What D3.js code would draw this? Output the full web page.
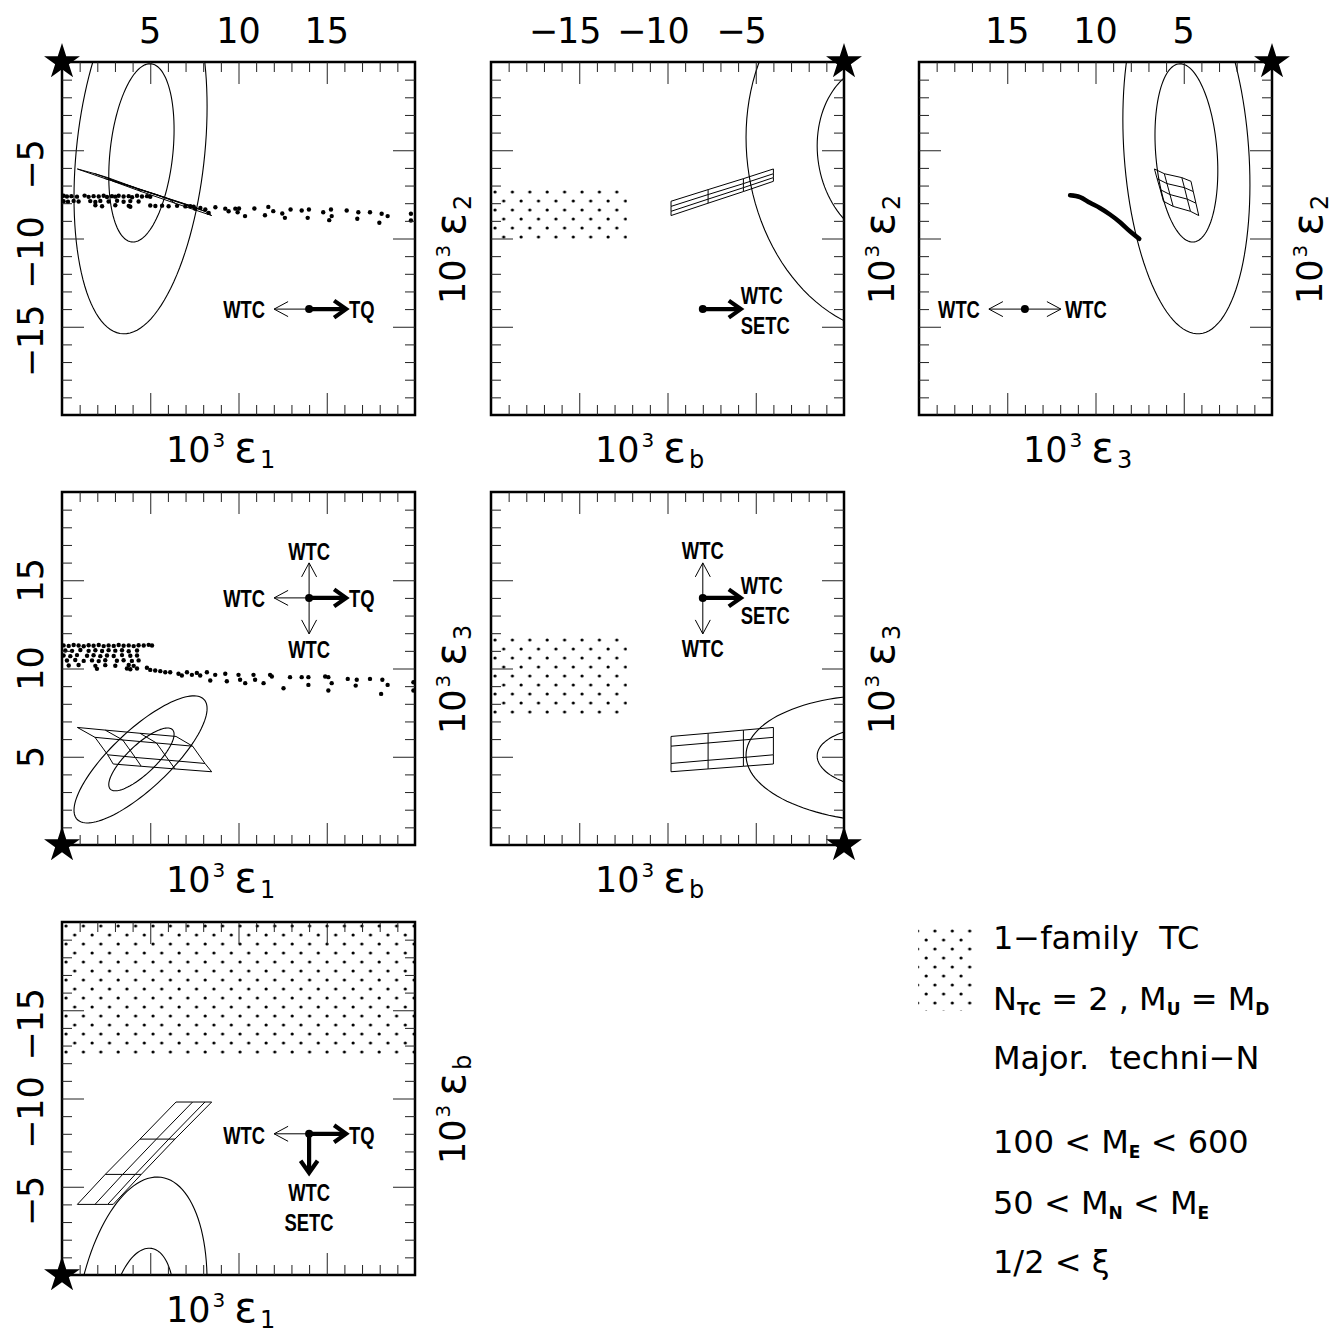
<!DOCTYPE html>
<html>
<head>
<meta charset="utf-8">
<script src="https://cdn.jsdelivr.net/npm/d3@7"></script>
<style>
  body { margin: 0; background: #fff; }
  svg text { font-family: "DejaVu Sans", sans-serif; fill: #000; white-space: pre; }
  svg text.note { font-family: "Liberation Sans", Arial, sans-serif; font-size: 23px; font-weight: bold; }
</style>
</head>
<body>
<div id="chart"></div>
<script>
// ---- values ----
const majorTicks = [5, 10, 15];
const minorTicks = [1, 2, 3, 4, 6, 7, 8, 9, 11, 12, 13, 14, 16, 17, 18, 19];

// model grid: rows i = eps_b level, columns j = second parameter
const gridEb = [-9.8, -7.7, -5.7, -4.0];
const gridE1 = [[6.46, 7.40, 8.10, 8.48], [4.42, 5.35, 6.05, 6.40], [2.45, 3.44, 4.15, 4.49], [0.87, 1.87, 2.59, 2.90]];
const gridE2 = [[-7.89, -8.18, -8.46, -8.70], [-7.23, -7.51, -7.77, -8.00], [-6.61, -6.89, -7.12, -7.34], [-6.06, -6.33, -6.55, -6.76]];
const gridE3 = [[6.15, 5.60, 4.62, 4.15], [6.33, 5.78, 4.80, 4.31], [6.51, 5.95, 4.96, 4.46], [6.66, 6.10, 5.11, 4.59]];

// fit contours: centre, half extents, correlation
const contoursP1 = [{cx: 4.5, cy: -5.15, hx: 1.85, hy: 5.05, rho: 0.26}, {cx: 4.45, cy: -5.1, hx: 3.77, hy: 10.3, rho: 0.25}];
const contoursP2 = [{cx: 2.35, cy: -5.15, hx: 3.87, hy: 5.05, rho: -0.08}, {cx: 2.35, cy: -5.1, hx: 7.9, hy: 10.3, rho: -0.08}];
const contoursP3 = [{cx: 4.85, cy: -5.15, hx: 1.78, hy: 5.05, rho: 0.2}, {cx: 4.85, cy: -5.1, hx: 3.6, hy: 10.3, rho: 0.18}];
const contoursP4 = [{cx: 4.5, cy: 4.85, hx: 1.85, hy: 1.78, rho: 0.8}, {cx: 4.45, cy: 4.85, hx: 3.77, hy: 3.6, rho: 0.8}];
const contoursP5 = [{cx: 2.35, cy: 4.9, hx: 3.87, hy: 1.78, rho: -0.08}, {cx: 2.35, cy: 4.9, hx: 7.9, hy: 3.6, rho: -0.05}];
const contoursP6 = [{cx: 4.5, cy: 2.35, hx: 1.85, hy: 3.87, rho: -0.24}, {cx: 4.45, cy: 2.35, hx: 3.77, hy: 7.9, rho: -0.25}];

// 1-family TC scan points (eps1, eps2)
const dotsP1 = [
  [0.09,-7.58],[0.28,-7.62],[0.53,-7.6],[0.85,-7.63],[1.28,-7.57],[1.51,-7.64],[1.79,-7.6],[2.08,-7.62],[2.36,-7.58],[2.55,-7.65],
  [2.83,-7.6],[3.02,-7.63],[3.21,-7.58],[3.49,-7.62],[3.78,-7.6],[3.97,-7.66],[4.25,-7.58],[4.53,-7.62],[4.82,-7.6],[5.0,-7.64],
  [0.09,-7.89],[0.34,-7.92],[0.66,-7.87],[0.94,-7.9],[1.6,-7.88],[1.89,-7.93],[2.17,-7.87],[2.64,-7.9],[3.12,-7.86],[3.49,-7.92],
  [3.87,-7.88],[4.34,-7.9],[1.89,-8.12],[2.27,-8.17],[3.02,-8.12],[3.78,-8.15],[3.87,-8.2],[5.0,-8.13],[5.29,-8.16],[5.67,-8.14],
  [6.04,-8.17],[6.52,-8.15],[6.99,-8.18],[7.27,-8.17],[7.46,-8.2],[7.55,-8.31],[7.84,-8.27],[8.12,-8.36],[8.31,-8.55],[8.69,-8.23],
  [9.25,-8.31],[9.44,-8.46],[9.82,-8.31],[10.03,-8.3],[9.95,-8.51],[10.37,-8.73],[10.9,-8.3],[11.5,-8.68],[11.69,-8.21],[11.97,-8.45],
  [12.48,-8.58],[12.63,-8.83],[12.95,-8.36],[13.58,-8.41],[13.99,-8.36],[13.92,-8.83],[14.8,-8.51],[15.24,-8.36],[15.28,-8.73],[15.14,-8.96],
  [16.13,-8.41],[16.79,-8.51],[16.73,-8.88],[17.45,-8.51],[18.11,-8.6],[17.98,-9.11],[18.45,-8.73],[19.77,-8.6],[19.77,-8.98]
];
// same scan, (eps1, eps3)
const dotsP4 = [
  [0.09,11.31],[0.38,11.28],[0.66,11.33],[0.94,11.3],[1.23,11.26],[1.51,11.32],[1.79,11.29],[2.08,11.33],[2.36,11.27],[2.64,11.31],
  [2.93,11.28],[3.21,11.33],[3.49,11.29],[3.78,11.31],[4.06,11.27],[4.34,11.32],[4.63,11.3],[4.91,11.34],[5.1,11.3],
  [0.19,11.02],[0.57,11.0],[1.04,11.05],[1.51,11.0],[1.89,11.03],[2.27,10.99],[2.64,11.04],[3.02,11.01],[3.4,11.03],[3.78,10.98],[4.25,11.02],
  [0.09,10.74],[0.47,10.7],[0.85,10.76],[1.42,10.72],[1.79,10.75],[2.17,10.7],[2.55,10.74],[2.93,10.71],[3.4,10.76],[3.87,10.72],[4.25,10.74],
  [0.28,10.45],[0.75,10.48],[1.23,10.43],[1.7,10.46],[2.08,10.42],[2.45,10.47],[3.11,10.44],[3.49,10.47],[3.96,10.43],[4.34,10.46],
  [0.38,10.17],[0.94,10.2],[1.89,10.15],[2.45,10.19],[3.02,10.16],[3.78,10.2],[4.06,10.15],
  [1.98,9.98],[3.68,10.0],[3.87,9.96],[4.25,10.0],
  [4.81,10.04],[5.0,9.92],[5.28,9.89],[5.57,9.85],[5.85,9.79],[6.13,9.79],[6.6,9.7],[6.79,9.6],[7.08,9.79],[7.36,9.64],
  [7.64,9.75],[7.83,9.6],[8.21,9.79],[8.4,9.32],[8.68,9.64],[9.25,9.7],[9.34,9.28],[10.0,9.64],[10.09,9.36],[10.38,9.17],
  [10.85,9.64],[10.94,9.36],[11.42,9.17],[11.79,9.64],[11.89,9.55],[12.55,8.88],[12.92,9.51],[13.58,9.51],[13.96,9.51],[13.96,9.07],
  [14.91,9.55],[15.09,9.51],[15.28,9.17],[15.09,8.75],[16.19,9.41],[16.7,9.36],[16.64,9.03],[17.45,9.41],[18.15,9.36],[18.08,8.56],
  [18.45,9.07],[19.91,9.22],[19.91,8.75]
];
// techni-N scan (eps3, eps2)
const curveP3 = [[11.44,-7.55],[10.88,-7.65],[10.31,-7.98],[9.75,-8.27],[9.18,-8.64],[8.61,-9.08],[8.05,-9.59],[7.52,-10.02]];

// 1-family TC allowed boxes [x0, x1, y0, y1]
const boxP2 = [-20, -12.3, -7.2, -10.3];
const boxP5 = [-20, -12.3, 7.4, 11.8];
const boxP6 = [0, 20, -20, -12.4];

// direction arrows: anchor in data units, arrows [dir, length, style], labels [text, dx, dy, anchor]
const notesP1 = {at: [14, -14], arrows: [["left", 35, "thin"], ["right", 37, "thick"]],
  labels: [["WTC", -44, 9, "end"], ["TQ", 40, 9, "start"]]};
const notesP2 = {at: [-8, -14], arrows: [["right", 38, "thick"]],
  labels: [["WTC", 38, -5, "start"], ["SETC", 38, 25, "start"]]};
const notesP3 = {at: [14, -14], arrows: [["left", 36, "thin"], ["right", 36, "thin"]],
  labels: [["WTC", -45, 9, "end"], ["WTC", 40, 9, "start"]]};
const notesP4 = {at: [14, 14], arrows: [["up", 35, "thin"], ["down", 36, "thin"], ["left", 35, "thin"], ["right", 37, "thick"]],
  labels: [["WTC", 0, -38, "middle"], ["WTC", -44, 9, "end"], ["TQ", 40, 9, "start"], ["WTC", 0, 60, "middle"]]};
const notesP5 = {at: [-8, 14], arrows: [["up", 35, "thin"], ["down", 36, "thin"], ["right", 38, "thick"]],
  labels: [["WTC", 0, -39, "middle"], ["WTC", 38, -4, "start"], ["SETC", 38, 26, "start"], ["WTC", 0, 59, "middle"]]};
const notesP6 = {at: [14, -8], arrows: [["left", 35, "thin"], ["right", 37, "thick"], ["down", 39, "thick"]],
  labels: [["WTC", -44, 10, "end"], ["TQ", 40, 10, "start"], ["WTC", 0, 67, "middle"], ["SETC", 0, 97, "middle"]]};

const legendLines = ["1\u2212family  TC", "N_{TC} = 2 , M_{U} = M_{D}", "Major.  techni\u2212N",
  "100 < M_{E} < 600", "50 < M_{N} < M_{E}", "1/2 < \u03BE"];

// ---- layout ----
const W = 353, H = 353;
const colX = [62, 491, 919];
const rowY = [62, 492, 922];

const panels = [
  {col: 0, row: 0, xv: "e1", yv: "e2", xd: [0, 20], yd: [0, -20], top: true, left: true, xs: "1", ys: "2",
   contours: contoursP1, dots: dotsP1, notes: notesP1},
  {col: 1, row: 0, xv: "eb", yv: "e2", xd: [-20, 0], yd: [0, -20], top: true, left: false, xs: "b", ys: "2",
   contours: contoursP2, box: boxP2, notes: notesP2},
  {col: 2, row: 0, xv: "e3", yv: "e2", xd: [20, 0], yd: [0, -20], top: true, left: false, xs: "3", ys: "2",
   contours: contoursP3, curve: curveP3, notes: notesP3},
  {col: 0, row: 1, xv: "e1", yv: "e3", xd: [0, 20], yd: [20, 0], top: false, left: true, xs: "1", ys: "3",
   contours: contoursP4, dots: dotsP4, notes: notesP4},
  {col: 1, row: 1, xv: "eb", yv: "e3", xd: [-20, 0], yd: [20, 0], top: false, left: false, xs: "b", ys: "3",
   contours: contoursP5, box: boxP5, notes: notesP5},
  {col: 0, row: 2, xv: "e1", yv: "eb", xd: [0, 20], yd: [-20, 0], top: false, left: true, xs: "1", ys: "b",
   contours: contoursP6, box: boxP6, notes: notesP6}
];

function nodeVal(i, j, v) {
  if (v === "e1") return gridE1[i][j];
  if (v === "e2") return gridE2[i][j];
  if (v === "e3") return gridE3[i][j];
  return gridEb[i];
}

function ellipsePts(c) {
  const s = Math.sqrt(1 - c.rho * c.rho);
  return d3.range(0, 361, 3).map(a => {
    const t = a * Math.PI / 180;
    return [c.cx + c.hx * Math.cos(t), c.cy + c.hy * (c.rho * Math.cos(t) + s * Math.sin(t))];
  });
}

const svg = d3.select("#chart").append("svg")
  .attr("width", 1338)
  .attr("height", 1337);
const defs = svg.append("defs");

// dotted hatch used for the 1-family TC region
const pat = defs.append("pattern")
  .attr("id", "tcdots")
  .attr("patternUnits", "userSpaceOnUse")
  .attr("width", 17.4)
  .attr("height", 18);
pat.append("circle").attr("cx", 4).attr("cy", 4).attr("r", 1.6);
pat.append("circle").attr("cx", 12.7).attr("cy", 13).attr("r", 1.6);

const dirs = {left: [-1, 0], right: [1, 0], up: [0, -1], down: [0, 1]};

function drawArrow(g, x0, y0, dir, len, style) {
  const [dx, dy] = dirs[dir];
  const tx = x0 + dx * len, ty = y0 + dy * len;
  const thick = style === "thick";
  const hl = thick ? 12 : 14, hw = thick ? 8.5 : 7.5;
  const sw = thick ? 4.2 : 1;
  g.append("line")
    .attr("x1", x0).attr("y1", y0)
    .attr("x2", thick ? tx - dx * 2 : tx).attr("y2", thick ? ty - dy * 2 : ty)
    .attr("stroke", "#000").attr("stroke-width", sw);
  const bx = tx - dx * hl, by = ty - dy * hl;
  g.append("polyline")
    .attr("points", [[bx - dy * hw, by + dx * hw], [tx, ty], [bx + dy * hw, by - dx * hw]].join(" "))
    .attr("fill", "none")
    .attr("stroke", "#000")
    .attr("stroke-width", sw)
    .attr("stroke-linejoin", "miter");
}

function tickLabel(g, tx, ty, v, rotate) {
  const t = g.append("g").attr("transform", `translate(${tx},${ty})` + (rotate ? " rotate(-90)" : ""));
  const digits = t.append("text")
    .attr("text-anchor", "middle")
    .attr("font-size", 35)
    .text(String(Math.abs(v)));
  if (v < 0) {
    const w = digits.node().getComputedTextLength();
    t.append("text")
      .attr("x", -w / 2 + 1)
      .attr("text-anchor", "end")
      .attr("font-size", 35)
      .text("\u2212");
  }
}

function axisTitle(g, tx, ty, sub, rotate) {
  const t = g.append("text")
    .attr("transform", `translate(${tx},${ty})` + (rotate ? " rotate(-90)" : ""))
    .attr("font-size", 35);
  t.append("tspan").text("10");
  t.append("tspan").attr("font-size", 20).attr("dy", -15).attr("dx", 2).text("3");
  t.append("tspan").attr("font-size", 42).attr("dy", 15).attr("dx", 9).text("\u03B5");
  t.append("tspan").attr("font-size", 24).attr("dy", 6).attr("dx", 3).text(sub);
}

panels.forEach((p, k) => {
  const g = svg.append("g").attr("transform", `translate(${colX[p.col]},${rowY[p.row]})`);
  const x = d3.scaleLinear().domain(p.xd).range([0, W]);
  const y = d3.scaleLinear().domain(p.yd).range([0, H]);
  const line = d3.line().x(d => x(d[0])).y(d => y(d[1]));

  defs.append("clipPath").attr("id", "clip" + k)
    .append("rect").attr("width", W).attr("height", H);
  const plot = g.append("g").attr("clip-path", `url(#clip${k})`);

  if (p.box) {
    const b = p.box;
    plot.append("rect")
      .attr("x", Math.min(x(b[0]), x(b[1])))
      .attr("y", Math.min(y(b[2]), y(b[3])))
      .attr("width", Math.abs(x(b[1]) - x(b[0])))
      .attr("height", Math.abs(y(b[3]) - y(b[2])))
      .attr("fill", "url(#tcdots)");
  }

  // fit contours
  plot.selectAll("path.contour")
    .data(p.contours)
    .join("path")
    .attr("class", "contour")
    .attr("d", c => line(ellipsePts(c)))
    .attr("fill", "none")
    .attr("stroke", "#000")
    .attr("stroke-width", 1.1);

  // model grid
  const rows = d3.range(4).map(i => d3.range(4).map(j => [nodeVal(i, j, p.xv), nodeVal(i, j, p.yv)]));
  const cols = d3.range(4).map(j => d3.range(4).map(i => [nodeVal(i, j, p.xv), nodeVal(i, j, p.yv)]));
  plot.selectAll("path.grid")
    .data(rows.concat(cols))
    .join("path")
    .attr("class", "grid")
    .attr("d", line)
    .attr("fill", "none")
    .attr("stroke", "#000")
    .attr("stroke-width", 1);

  if (p.dots) {
    plot.selectAll("circle.scan")
      .data(p.dots)
      .join("circle")
      .attr("class", "scan")
      .attr("cx", d => x(d[0]))
      .attr("cy", d => y(d[1]))
      .attr("r", 2.2)
      .attr("fill", "#000");
  }

  if (p.curve) {
    plot.append("path")
      .datum(p.curve)
      .attr("d", line.curve(d3.curveCatmullRom))
      .attr("fill", "none")
      .attr("stroke", "#000")
      .attr("stroke-width", 4.5)
      .attr("stroke-linecap", "round");
  }

  // frame
  g.append("rect")
    .attr("width", W).attr("height", H)
    .attr("fill", "none")
    .attr("stroke", "#000")
    .attr("stroke-width", 2.5);

  // ticks on all four sides, pointing inwards
  const sx = p.xd[0] + p.xd[1] < 0 ? -1 : 1;
  const sy = p.yd[0] + p.yd[1] < 0 ? -1 : 1;
  [[minorTicks, 10], [majorTicks, 22]].forEach(([vals, len]) => {
    const xv = vals.map(v => v * sx), yv = vals.map(v => v * sy);
    [[d3.axisBottom(x).tickValues(xv), `translate(0,${H})`],
     [d3.axisTop(x).tickValues(xv), "translate(0,0)"],
     [d3.axisLeft(y).tickValues(yv), "translate(0,0)"],
     [d3.axisRight(y).tickValues(yv), `translate(${W},0)`]].forEach(([ax, tr]) => {
      g.append("g")
        .attr("transform", tr)
        .call(ax.tickSize(-len).tickFormat(""))
        .call(a => a.select(".domain").remove())
        .selectAll("line")
        .attr("stroke", "#222")
        .attr("stroke-width", 1);
    });
  });

  // tick labels
  if (p.top) majorTicks.map(v => v * sx).forEach(v => tickLabel(g, x(v), -19, v, false));
  if (p.left) majorTicks.map(v => v * sy).forEach(v => tickLabel(g, -19, y(v), v, true));

  // axis titles
  axisTitle(g, 104, H + 47, p.xs, false);
  axisTitle(g, W + 50, 242, p.ys, true);

  // Standard Model point
  g.append("path")
    .attr("d", d3.symbol(d3.symbolStar, 400)())
    .attr("transform", `translate(${x(0)},${y(0)})`)
    .attr("fill", "#000");

  // direction arrows
  const n = p.notes;
  const ax0 = x(n.at[0]), ay0 = y(n.at[1]);
  n.arrows.forEach(a => drawArrow(g, ax0, ay0, a[0], a[1], a[2]));
  g.append("circle").attr("cx", ax0).attr("cy", ay0).attr("r", 4).attr("fill", "#000");
  n.labels.forEach(l => {
    g.append("text")
      .attr("class", "note")
      .attr("transform", `translate(${ax0 + l[1]},${ay0 + l[2]}) scale(0.8,1)`)
      .attr("text-anchor", l[3])
      .text(l[0]);
  });
});

// legend
svg.append("rect")
  .attr("x", 918).attr("y", 925)
  .attr("width", 57).attr("height", 86)
  .attr("fill", "url(#tcdots)");

const legendY = [949, 1010, 1069, 1153, 1214, 1273];
legendLines.forEach((s, i) => {
  const t = svg.append("text")
    .attr("x", 993)
    .attr("y", legendY[i])
    .attr("font-size", 32);
  let shift = 0;
  s.split(/(_\{[^}]*\})/).filter(d => d.length).forEach(part => {
    if (part.startsWith("_{")) {
      t.append("tspan")
        .attr("font-size", 17)
        .attr("font-weight", "bold")
        .attr("dy", 5 - shift)
        .text(part.slice(2, -1));
      shift = 5;
    } else {
      t.append("tspan").attr("dy", -shift).text(part);
      shift = 0;
    }
  });
});
</script>
</body>
</html>
